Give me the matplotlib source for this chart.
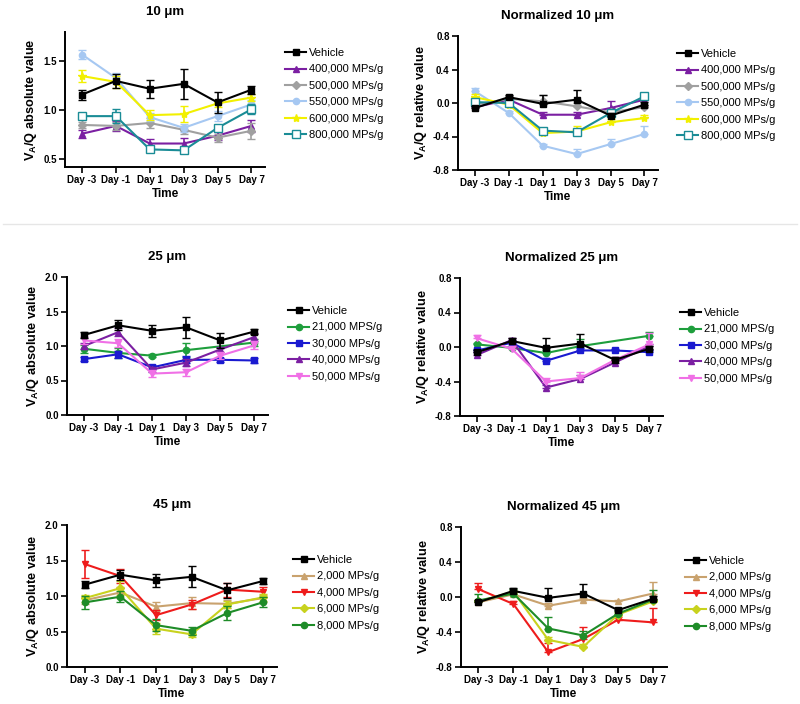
import numpy as np
import matplotlib
matplotlib.use("Agg")
import matplotlib.pyplot as plt
from matplotlib.lines import Line2D

plt.rcParams['font.family'] = ['Liberation Sans', 'DejaVu Sans']
plt.rcParams['mathtext.fontset'] = 'custom'
plt.rcParams['mathtext.rm'] = 'Liberation Sans'
plt.rcParams['mathtext.bf'] = 'Liberation Sans:bold'
plt.rcParams['mathtext.default'] = 'bf'

nan = np.nan
days = ['Day -3', 'Day -1', 'Day 1', 'Day 3', 'Day 5', 'Day 7']

# vehicle (shared by all panels)
veh_abs = [1.16, 1.30, 1.22, 1.27, 1.08, 1.21]
veh_abs_err = [0.05, 0.07, 0.09, 0.15, 0.11, 0.04]
veh_norm = [-0.06, 0.07, -0.01, 0.04, -0.15, -0.02]
veh_norm_err = [0.03, 0.03, 0.11, 0.11, 0.03, 0.03]

# 10 um
labels_10 = ['400,000 MPs/g', '500,000 MPs/g', '550,000 MPs/g', '600,000 MPs/g', '800,000 MPs/g']
abs_10 = [[0.76, 0.84, 0.66, 0.66, 0.74, 0.84],
          [0.85, 0.84, 0.87, 0.80, 0.72, 0.79],
          [1.57, 1.33, 0.93, 0.82, 0.94, 1.06],
          [1.35, 1.29, 0.95, 0.96, 1.07, 1.13],
          [0.94, 0.94, 0.60, 0.59, 0.82, 1.01]]
abs_10_err = [[0.04, 0.05, 0.05, 0.06, 0.04, 0.06],
              [0.03, 0.04, 0.05, 0.04, 0.04, 0.08],
              [0.05, 0.05, 0.04, 0.04, 0.05, 0.04],
              [0.06, 0.06, 0.05, 0.08, 0.04, 0.04],
              [0.03, 0.07, 0.03, 0.03, 0.03, 0.05]]
norm_10 = [[-0.05, 0.04, -0.14, -0.14, -0.06, 0.04],
           [-0.02, 0.05, 0.02, -0.04, -0.11, -0.05],
           [0.14, -0.12, -0.51, -0.61, -0.49, -0.37],
           [0.07, -0.02, -0.36, -0.34, -0.23, -0.18],
           [0.01, 0.00, -0.33, -0.35, -0.12, 0.08]]
norm_10_err = [[0.02, 0.02, 0.03, 0.03, 0.08, 0.03],
               [0.03, 0.03, 0.07, 0.04, 0.03, 0.03],
               [0.04, 0.02, 0.02, 0.06, 0.06, 0.09],
               [0.04, 0.03, 0.03, 0.07, 0.04, 0.04],
               [0.03, 0.03, 0.03, 0.03, 0.03, 0.03]]
colors_10 = ['#7B1FA2', '#A0A0A0', '#A6C8F2', '#F2F000', '#1A8C96']
markers_10 = ['^', 'D', 'o', '*', 's']

# 25 um
labels_25 = ['21,000 MPS/g', '30,000 MPs/g', '40,000 MPs/g', '50,000 MPs/g']
abs_25 = [[0.96, 0.90, 0.86, 0.94, nan, 1.05],
          [0.81, 0.88, 0.69, 0.80, 0.80, 0.79],
          [1.00, 1.20, 0.66, 0.76, 0.95, 1.13],
          [1.08, 1.04, 0.60, 0.62, 0.86, 1.01]]
abs_25_err = [[0.06, 0.07, 0.02, 0.10, nan, 0.05],
              [0.03, 0.05, 0.03, 0.05, 0.03, 0.04],
              [0.04, 0.06, 0.04, 0.05, 0.04, 0.06],
              [0.05, 0.06, 0.05, 0.05, 0.05, 0.06]]
norm_25 = [[0.03, -0.01, -0.07, 0.01, nan, 0.13],
           [-0.04, 0.05, -0.16, -0.04, -0.04, -0.06],
           [-0.09, 0.08, -0.47, -0.37, -0.18, 0.01],
           [0.10, -0.02, -0.40, -0.36, -0.15, 0.03]]
norm_25_err = [[0.02, 0.02, 0.03, 0.08, nan, 0.04],
               [0.02, 0.02, 0.03, 0.03, 0.02, 0.02],
               [0.03, 0.02, 0.03, 0.04, 0.03, 0.03],
               [0.04, 0.03, 0.04, 0.07, 0.03, 0.13]]
colors_25 = ['#1E9E3C', '#1A1AD0', '#7B1FA2', '#F070E6']
markers_25 = ['o', 's', '^', 'v']

# 45 um
labels_45 = ['2,000 MPs/g', '4,000 MPs/g', '6,000 MPs/g', '8,000 MPs/g']
abs_45 = [[0.94, 1.05, 0.85, 0.90, 0.89, 0.97],
          [1.45, 1.28, 0.73, 0.88, 1.09, 1.06],
          [0.97, 1.11, 0.54, 0.46, 0.88, 0.98],
          [0.91, 0.99, 0.59, 0.51, 0.76, 0.91]]
abs_45_err = [[0.05, 0.08, 0.06, 0.08, 0.06, 0.05],
              [0.20, 0.10, 0.07, 0.07, 0.10, 0.07],
              [0.05, 0.10, 0.08, 0.04, 0.05, 0.05],
              [0.09, 0.08, 0.08, 0.06, 0.10, 0.07]]
norm_45 = [[-0.06, 0.03, -0.10, -0.03, -0.05, 0.04],
           [0.09, -0.08, -0.63, -0.48, -0.26, -0.29],
           [-0.05, 0.06, -0.49, -0.57, -0.20, -0.05],
           [-0.04, 0.04, -0.36, -0.44, -0.19, -0.03]]
norm_45_err = [[0.02, 0.02, 0.03, 0.02, 0.02, 0.13],
               [0.07, 0.03, 0.11, 0.14, 0.03, 0.17],
               [0.02, 0.02, 0.03, 0.03, 0.03, 0.03],
               [0.07, 0.05, 0.13, 0.05, 0.03, 0.11]]
colors_45 = ['#C9A26E', '#EE1C1C', '#C8D21E', '#1E8C28']
markers_45 = ['^', 'v', 'D', 'o']

W, H = 800, 704
fig = plt.figure(figsize=(W / 100, H / 100), dpi=100)


def make_ax(left, right, top, bottom):
    return fig.add_axes([left / W, 1 - bottom / H, (right - left) / W, (bottom - top) / H])


def marker_style(color, marker, label):
    ms = 4.5
    if marker == '*':
        ms = 6
    if marker == 'D':
        ms = 3.8
    mfc = color
    if label.startswith('800,000'):
        mfc = 'white'
        ms = 5.5
    return dict(color=color, marker=marker, ms=ms, mfc=mfc, mec=color, mew=1.0)


def draw_series(ax, y, err, color, marker, label, upper_only, z):
    x = np.arange(len(days))
    y = np.array(y, dtype=float)
    e = np.array(err, dtype=float)
    ok = ~np.isnan(y)
    yerr = [np.zeros(ok.sum()), e[ok]] if upper_only else e[ok]
    ax.errorbar(x[ok], y[ok], yerr=yerr, lw=1.5, elinewidth=1.2,
                capsize=3, capthick=1.2, zorder=z, **marker_style(color, marker, label))
    return Line2D([], [], lw=1.5, **marker_style(color, marker, label))


def panel(ax, title, labels, data, errs, colors, markers, normalized, leg_xy):
    handles = []
    for i in range(len(labels)):
        handles.append(draw_series(ax, data[i], errs[i], colors[i], markers[i], labels[i], normalized, 3 + i))
    if normalized:
        vh = draw_series(ax, veh_norm, veh_norm_err, 'black', 's', 'Vehicle', True, 10)
    else:
        vh = draw_series(ax, veh_abs, veh_abs_err, 'black', 's', 'Vehicle', False, 10)
    ax.set_xlim(-0.5, 5.4)
    ax.set_xticks(range(len(days)))
    ax.set_xticklabels(days, fontweight='bold')
    if normalized:
        ax.set_ylim(-0.8, 0.8)
        ax.set_yticks([-0.8, -0.4, 0.0, 0.4, 0.8])
        ax.set_ylabel('V$_A$/Q relative value', fontsize=9.2, fontweight='bold', labelpad=3)
    ax.set_xlabel('Time', fontsize=8.5, fontweight='bold', labelpad=2)
    ax.set_title(title, fontsize=9.5, fontweight='bold', pad=12)
    for s in ['top', 'right']:
        ax.spines[s].set_visible(False)
    for s in ['left', 'bottom']:
        ax.spines[s].set_linewidth(1.4)
    ax.tick_params(axis='both', width=1.2, length=4, labelsize=7, pad=2)
    ax.legend([vh] + handles, ['Vehicle'] + labels,
              loc='upper left', bbox_to_anchor=(leg_xy[0] / W, 1 - leg_xy[1] / H),
              bbox_transform=fig.transFigure, frameon=False, fontsize=8,
              handlelength=1.9, handletextpad=0.3, labelspacing=0.58,
              borderpad=0, borderaxespad=0)


ax1 = make_ax(65, 265, 32, 167)
panel(ax1, '10 μm', labels_10, abs_10, abs_10_err, colors_10, markers_10, False, (285, 48))
ax1.set_ylim(0.42, 1.8)
ax1.set_yticks([0.5, 1.0, 1.5])
ax1.set_ylabel('V$_A$/Q absolute value', fontsize=9.2, fontweight='bold', labelpad=3)

ax2 = make_ax(458, 658, 36, 170)
panel(ax2, 'Normalized 10 μm', labels_10, norm_10, norm_10_err, colors_10, markers_10, True, (677, 49))

ax3 = make_ax(67, 268, 277, 415)
panel(ax3, '25 μm', labels_25, abs_25, abs_25_err, colors_25, markers_25, False, (288, 306))
ax3.set_ylim(0, 2.0)
ax3.set_yticks([0.0, 0.5, 1.0, 1.5, 2.0])
ax3.set_ylabel('V$_A$/Q absolute value', fontsize=9.2, fontweight='bold', labelpad=3)

ax4 = make_ax(460, 663, 278, 416)
panel(ax4, 'Normalized 25 μm', labels_25, norm_25, norm_25_err, colors_25, markers_25, True, (680, 308))

ax5 = make_ax(67, 277, 525, 667)
panel(ax5, '45 μm', labels_45, abs_45, abs_45_err, colors_45, markers_45, False, (293, 555))
ax5.set_ylim(0, 2.0)
ax5.set_yticks([0.0, 0.5, 1.0, 1.5, 2.0])
ax5.set_ylabel('V$_A$/Q absolute value', fontsize=9.2, fontweight='bold', labelpad=3)

ax6 = make_ax(461, 667, 527, 667)
panel(ax6, 'Normalized 45 μm', labels_45, norm_45, norm_45_err, colors_45, markers_45, True, (685, 556))

for ax in [ax1, ax2, ax3, ax4, ax5, ax6]:
    ax.yaxis.set_major_formatter(plt.FormatStrFormatter('%.1f'))
    for t in ax.get_yticklabels():
        t.set_fontweight('bold')

fig.add_artist(Line2D([3 / W, 797 / W], [1 - 224 / H, 1 - 224 / H], color='#e6e6e6', lw=1))

fig.savefig('out.png', dpi=100)
